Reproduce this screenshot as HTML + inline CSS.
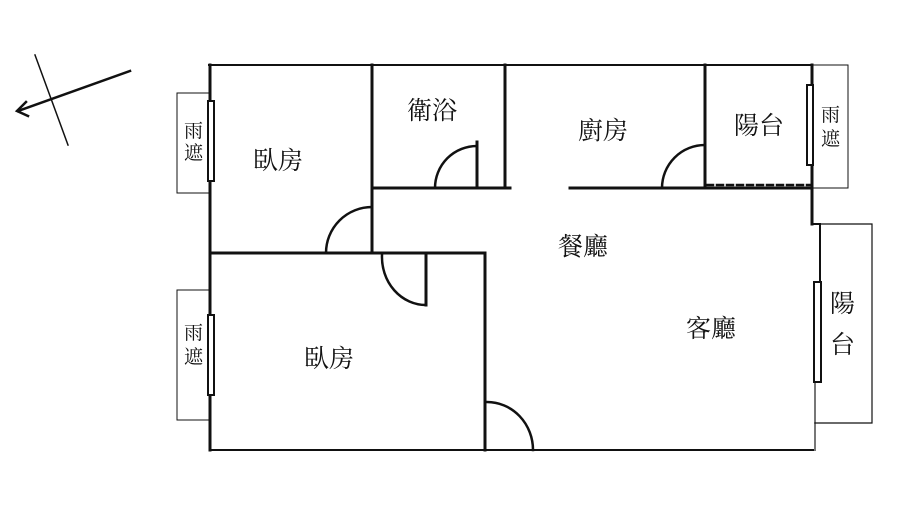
<!DOCTYPE html>
<html><head><meta charset="utf-8"><style>
html,body{margin:0;padding:0;background:#fff;}
text{font-family:"Liberation Serif","Noto Serif CJK SC",serif;fill:#111;}
</style></head><body>
<svg width="900" height="504" viewBox="0 0 900 504" xmlns="http://www.w3.org/2000/svg">
<g stroke="#111" fill="none" stroke-linecap="square">
<line x1="130" y1="71" x2="18" y2="111" stroke-width="2.5"/>
<polyline points="26,102 17,111 28,116" stroke-width="2.5"/>
<line x1="35" y1="55" x2="68" y2="145" stroke-width="1.5"/>
<line x1="209" y1="65" x2="812" y2="65" stroke-width="2"/>
<line x1="210" y1="65" x2="210" y2="450" stroke-width="3"/>
<line x1="210" y1="450" x2="815" y2="450" stroke-width="2"/>
<line x1="812" y1="65" x2="812" y2="224" stroke-width="3"/>
<line x1="812" y1="224" x2="820" y2="224" stroke-width="2"/>
<line x1="820" y1="224" x2="820" y2="282" stroke-width="2"/>
<line x1="815" y1="382" x2="815" y2="450" stroke-width="2" stroke="#777"/>
<line x1="372" y1="65" x2="372" y2="253" stroke-width="3"/>
<line x1="210" y1="253" x2="485" y2="253" stroke-width="3"/>
<line x1="485" y1="253" x2="485" y2="450" stroke-width="3"/>
<line x1="372" y1="188" x2="510" y2="188" stroke-width="3"/>
<line x1="505" y1="65" x2="505" y2="188" stroke-width="3"/>
<line x1="570" y1="188" x2="812" y2="188" stroke-width="3"/>
<line x1="705" y1="65" x2="705" y2="188" stroke-width="3"/>
<line x1="707" y1="185" x2="810" y2="185" stroke-width="2.5" stroke-dasharray="6,4"/>
<line x1="477" y1="142" x2="477" y2="188" stroke-width="3"/>
<path d="M435,188 A42,42 0 0 1 477,146" stroke-width="2.5"/>
<path d="M326,253 A46,46 0 0 1 372,207" stroke-width="2.5"/>
<line x1="426" y1="253" x2="426" y2="305" stroke-width="3"/>
<path d="M382,255 A44,48 0 0 0 426,305" stroke-width="2.5"/>
<path d="M662,188 A43,43 0 0 1 705,145" stroke-width="2.5"/>
<path d="M487,402 A46,48 0 0 1 533,450" stroke-width="2.5"/>
<rect x="177" y="93" width="33" height="100" stroke-width="1"/>
<rect x="208" y="101" width="6" height="80" stroke-width="2" fill="#fff"/>
<rect x="177" y="290" width="33" height="130" stroke-width="1"/>
<rect x="208" y="315" width="6" height="80" stroke-width="2" fill="#fff"/>
<rect x="812" y="65" width="36" height="123" stroke-width="1"/>
<rect x="807" y="85" width="6" height="80" stroke-width="2" fill="#fff"/>
<polyline points="820,224 872,224 872,423 815,423" stroke-width="1.2"/>
<rect x="814" y="282" width="7" height="100" stroke-width="2" fill="#fff"/>
</g>
<g font-size="25">
<text x="253" y="169">臥房</text>
<text x="407" y="119">衛浴</text>
<text x="578" y="139">廚房</text>
<text x="734" y="134">陽台</text>
<text x="558" y="255">餐廳</text>
<text x="686" y="337">客廳</text>
<text x="304" y="367">臥房</text>
<text x="830" y="312">陽</text>
<text x="830" y="353">台</text>
</g>
<g font-size="19">
<text x="184" y="137">雨</text>
<text x="184" y="159">遮</text>
<text x="184" y="339">雨</text>
<text x="184" y="363">遮</text>
<text x="821" y="121">雨</text>
<text x="821" y="145">遮</text>
</g>
</svg>
</body></html>
